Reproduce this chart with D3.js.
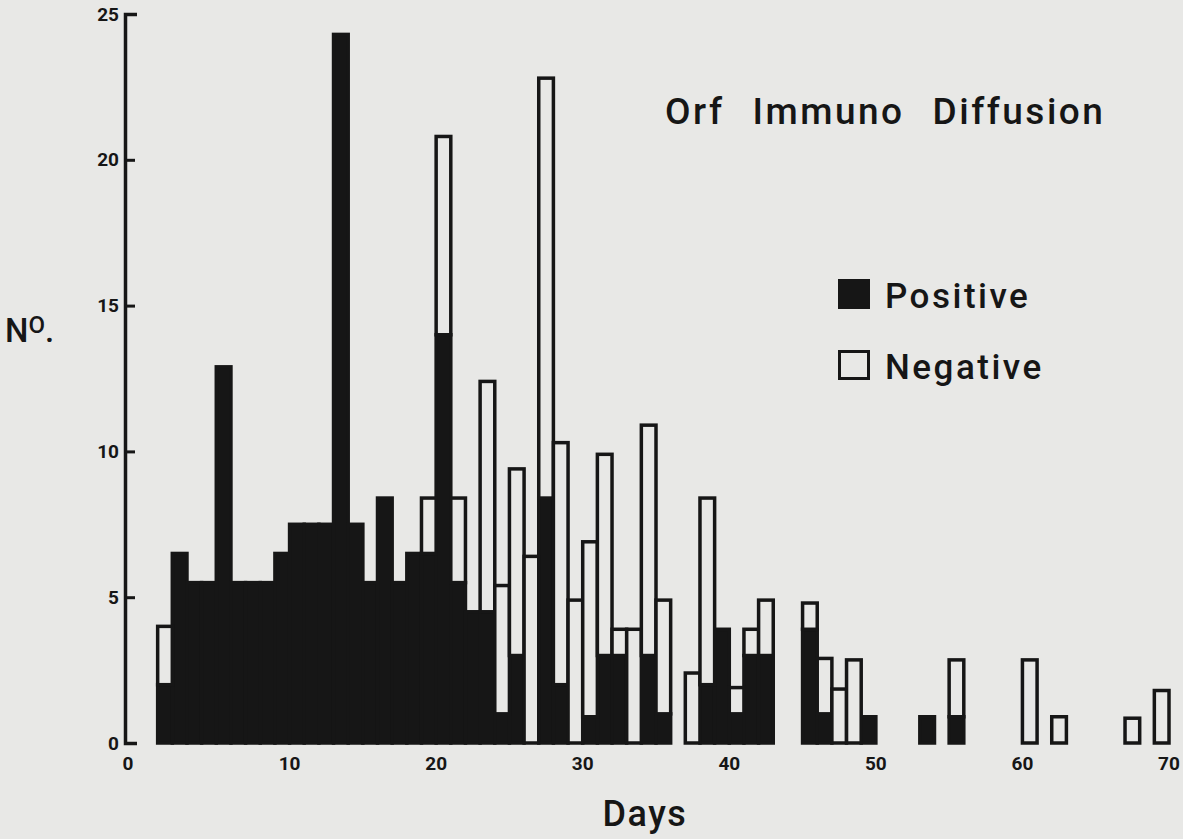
<!DOCTYPE html>
<html>
<head>
<meta charset="utf-8">
<script src="https://cdn.jsdelivr.net/npm/d3@7"></script>
<style>
  html, body { margin: 0; padding: 0; background: #e8e8e6; }
  svg { display: block; }
  text { font-family: Roboto, 'Liberation Sans', sans-serif; fill: #161616; }
</style>
</head>
<body>
<svg id="chart" width="1183" height="839"></svg>
<script>
// days after onset, and number of sera positive / negative on each day
const days = [1, 2, 3, 4, 5, 6, 7, 8, 9, 10, 11, 12, 13, 14, 15, 16, 17, 18, 19, 20,
  21, 22, 23, 24, 25, 26, 27, 28, 29, 30, 31, 32, 33, 34, 35, 37, 38, 39, 40, 41,
  42, 45, 46, 47, 48, 49, 53, 55, 60, 62, 67, 69];
const positive = [2, 6.5, 5.5, 5.5, 12.9, 5.5, 5.5, 5.5, 6.5, 7.5, 7.5, 7.5, 24.3, 7.5, 5.5, 8.4, 5.5, 6.5, 6.5, 14,
  5.5, 4.5, 4.5, 1, 3, 0, 8.4, 2, 0, 0.9, 3, 3, 0, 3, 1, 0, 2, 3.9, 1, 3,
  3, 3.9, 1, 0, 0, 0.9, 0.9, 0.9, 0, 0, 0, 0];
const negative = [2, 0, 0, 0, 0, 0, 0, 0, 0, 0, 0, 0, 0, 0, 0, 0, 0, 0, 1.9, 6.8,
  2.9, 0, 7.9, 4.4, 6.4, 6.4, 14.4, 8.3, 4.9, 6, 6.9, 0.9, 3.9, 7.9, 3.9, 2.4, 6.4, 0, 0.9, 0.9,
  1.9, 0.9, 1.9, 1.85, 2.85, 0, 0, 1.95, 2.85, 0.9, 0.85, 1.8];

const xTicks = [0, 10, 20, 30, 40, 50, 60, 70];
const yTicks = [0, 5, 10, 15, 20, 25];
const legendLabels = ['Positive', 'Negative'];
const titleWords = ['Orf', 'Immuno', 'Diffusion'];

const ink = '#161616';
const paper = '#e8e8e6';

const svg = d3.select('#chart');

const x = d3.scaleLinear().domain([0, 70]).range([143, 1169]);
const y = d3.scaleLinear().domain([0, 25]).range([743, 14]);

const data = days.map((d, i) => ({ day: d, pos: positive[i], neg: negative[i] }));

// bars: black part first, white (outlined) part stacked on top
const plot = svg.append('g').attr('class', 'plot-area');

plot.selectAll('.pos')
  .data(data.filter((d) => d.pos > 0))
  .join('rect')
  .attr('class', 'pos')
  .attr('x', (d) => x(d.day))
  .attr('width', (d) => x(d.day + 1) - x(d.day))
  .attr('y', (d) => y(d.pos))
  .attr('height', (d) => y(0) - y(d.pos))
  .attr('fill', ink)
  .attr('stroke', ink)
  .attr('stroke-width', 3.5);

plot.selectAll('.neg')
  .data(data.filter((d) => d.neg > 0))
  .join('rect')
  .attr('class', 'neg')
  .attr('x', (d) => x(d.day))
  .attr('width', (d) => x(d.day + 1) - x(d.day))
  .attr('y', (d) => y(d.pos + d.neg))
  .attr('height', (d) => y(d.pos) - y(d.pos + d.neg))
  .attr('fill', paper)
  .attr('stroke', ink)
  .attr('stroke-width', 3.5);

// y axis: ticks point inwards, caps at both ends
const axisX = x(0) - 18;
const yAxis = svg.append('g')
  .attr('transform', `translate(${axisX},0)`)
  .call(d3.axisLeft(y).tickValues(yTicks).tickSizeInner(-10).tickSizeOuter(-12).tickPadding(6));
yAxis.select('.domain').attr('stroke', ink).attr('stroke-width', 3.5).attr('fill', 'none');
yAxis.selectAll('.tick line').attr('stroke', ink).attr('stroke-width', 3);
yAxis.selectAll('.tick text')
  .attr('fill', ink)
  .style('font-size', '19px')
  .style('font-weight', 700)
  .attr('font-family', null);

// x labels only, no axis line
svg.append('g')
  .selectAll('text')
  .data(xTicks)
  .join('text')
  .attr('x', (d) => (d === 0 ? axisX + 3 : x(d)))
  .attr('y', 770)
  .attr('text-anchor', 'middle')
  .style('font-size', '19px')
  .style('font-weight', 700)
  .text((d) => d);

// axis titles
svg.append('text')
  .attr('x', 645)
  .attr('y', 826)
  .attr('text-anchor', 'middle')
  .style('font-size', '36px')
  .style('font-weight', 500)
  .style('letter-spacing', '1.5px')
  .text('Days');

const no = svg.append('text')
  .attr('x', 5)
  .attr('y', 342)
  .style('font-size', '33px')
  .style('font-weight', 500);
no.append('tspan').text('N');
no.append('tspan').attr('dy', -9).style('font-size', '24px').text('O');
no.append('tspan').attr('dy', 9).text('.');

// title, words spread out as in the original lettering
const title = svg.append('text')
  .attr('x', 665)
  .attr('y', 124)
  .style('font-size', '37px')
  .style('font-weight', 500)
  .style('letter-spacing', '2.5px');
title.selectAll('tspan')
  .data(titleWords)
  .join('tspan')
  .attr('dx', (d, i) => (i === 0 ? 0 : 28))
  .text((d) => d);

// legend
const legend = svg.append('g')
  .selectAll('g')
  .data(legendLabels)
  .join('g')
  .attr('transform', (d, i) => `translate(838,${279 + i * 71})`);

legend.append('rect')
  .attr('x', 1.5)
  .attr('y', 1.5)
  .attr('width', 29)
  .attr('height', 27)
  .attr('fill', (d, i) => (i === 0 ? ink : paper))
  .attr('stroke', ink)
  .attr('stroke-width', 3);

legend.append('text')
  .attr('x', 47)
  .attr('y', 29)
  .style('font-size', '35px')
  .style('font-weight', 500)
  .style('letter-spacing', '2.5px')
  .text((d) => d);
</script>
</body>
</html>
